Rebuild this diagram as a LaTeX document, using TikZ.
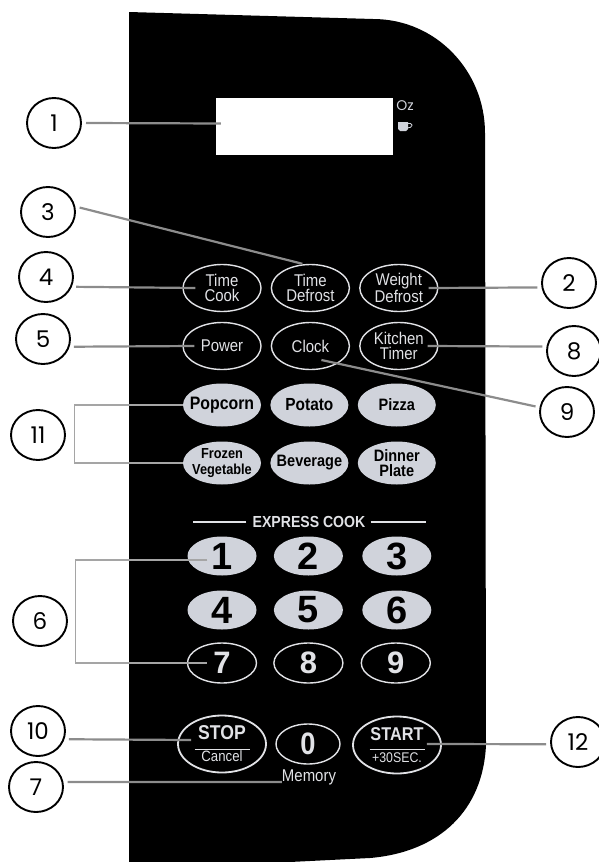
\documentclass[tikz,border=0pt]{standalone}
\usepackage{xcolor}
\usepackage{fontspec}
\setmainfont{Liberation Sans}
\newfontfamily\calloutfont{Poppins}
\newfontfamily\condfont[FakeStretch=0.88]{Liberation Sans}
\usetikzlibrary{shapes.geometric, positioning}
\definecolor{keygray}{RGB}{208, 211, 219}
\definecolor{ringgray}{RGB}{225, 226, 230}
\definecolor{leadgray}{RGB}{140, 140, 140}
\definecolor{bracketgray}{RGB}{165, 165, 165}

\begin{document}
\begin{tikzpicture}[
    x=1pt, y=-1pt,
    callout/.style={draw=black, line width=1.9pt, ellipse, minimum width=54pt, minimum height=50pt,
                    inner sep=-40pt, outer sep=5pt, font=\calloutfont\fontsize{23}{23}\selectfont},
    softkey/.style={draw=ringgray, line width=1.4pt, ellipse, minimum width=78pt, minimum height=47pt,
                    inner sep=-40pt, align=center, text=ringgray, font=\condfont\fontsize{17}{15.5}\selectfont},
    foodkey/.style={fill=keygray, ellipse, minimum width=78pt, minimum height=43pt, inner sep=-40pt,
                    align=center, text=black, font=\condfont\bfseries\fontsize{16.5}{15.5}\selectfont},
    numkey/.style={fill=keygray, ellipse, minimum width=69pt, minimum height=39pt, inner sep=-40pt,
                   text=black, font=\bfseries\fontsize{38}{38}\selectfont},
    numring/.style={draw=ringgray, line width=1.4pt, ellipse, minimum width=69pt, minimum height=40pt,
                    inner sep=-40pt, text=ringgray, font=\bfseries\fontsize{31}{31}\selectfont},
    bigkey/.style={draw=ringgray, line width=1.8pt, ellipse, minimum width=88pt, minimum height=57pt,
                   inner sep=-40pt, align=center, text=ringgray, font=\condfont\fontsize{15}{15}\selectfont},
    lead/.style={draw=leadgray, line width=2.2pt},
    bracket/.style={draw=bracketgray, line width=1.2pt}
]
    \useasboundingbox (0,0) rectangle (598,862);

    % Panel and display
    \fill[black] (129,12) -- (373,19) .. controls (436,19) and (485,71) .. (485,133)
        -- (486,745) .. controls (483,810) and (440,852) .. (370,858) -- (290,862) -- (129,862) -- cycle;
    \node[fill=white, minimum width=177pt, minimum height=57pt] (display) at (304.5,126.5) {};
    \node[text=keygray, font=\calloutfont\fontsize{14}{14}\selectfont, inner sep=0pt] (ounces) at (405,106) {Oz};
    \fill[keygray] (398,122) -- (408,122) -- (408,129) -- (406,131) -- (400,131) -- (398,129) -- cycle;
    \draw[keygray, line width=0.8pt, rounded corners=1.5pt] (408,123.5) -- (412,123.5) -- (412,127) -- (407,128);

    % Row 1 - Soft keys
    \node[softkey] (timecook) at (222,288) {Time\\Cook};
    \node[softkey, right=9pt of timecook] (timedefrost) {Time\\Defrost};
    \node[softkey, right=9pt of timedefrost] (weightdefrost) {Weight\\Defrost};

    % Row 2 - Soft keys
    \node[softkey] (power) at (222,346) {Power};
    \node[softkey, right=9pt of power] (clock) {Clock};
    \node[softkey, right=9pt of clock] (kitchentimer) {Kitchen\\Timer};

    % Row 3 and 4 - Food keys
    \node[foodkey] (popcorn) at (222,405) {\fontsize{18}{18}\selectfont Popcorn};
    \node[foodkey, right=9pt of popcorn] (potato) {\fontsize{17.5}{18}\selectfont Potato};
    \node[foodkey, right=9pt of potato] (pizza) {Pizza};
    \node[foodkey, font=\condfont\bfseries\fontsize{14.5}{15.5}\selectfont] (frozen) at (222,463) {Frozen\\Vegetable};
    \node[foodkey, right=9pt of frozen] (beverage) {Beverage};
    \node[foodkey, right=9pt of beverage] (dinner) {Dinner\\Plate};

    % Number pad
    \node[text=ringgray, font=\condfont\bfseries\fontsize{16}{16}\selectfont, inner sep=0pt] (express) at (309,522) {EXPRESS COOK};
    \draw[ringgray, line width=1.4pt] ([xshift=-6pt]express.west) -- ++(-53,0);
    \draw[ringgray, line width=1.4pt] ([xshift=5pt]express.east) -- ++(55,0);
    \node[numkey] (keyone) at (222,556) {1};
    \node[numkey, right=17pt of keyone] (keytwo) {2};
    \node[numkey, right=19pt of keytwo] (keythree) {3};
    \node[numkey] (keyfour) at (222,610) {4};
    \node[numkey, right=17pt of keyfour] (keyfive) {5};
    \node[numkey, right=19pt of keyfive] (keysix) {6};
    \node[numring] (keyseven) at (222,663) {7};
    \node[numring, right=16pt of keyseven] (keyeight) {8};
    \node[numring, right=17pt of keyeight] (keynine) {9};

    % Bottom row
    \node[bigkey] (stop) at (222,744) {{\bfseries\fontsize{20}{20}\selectfont STOP}\\[-5pt]\rule{55pt}{1pt}\\[-3pt]Cancel};
    \node[numring, minimum width=64pt] (keyzero) at (308,744) {\condfont 0};
    \node[bigkey] (start) at (397,745) {{\bfseries\fontsize{18.5}{20}\selectfont START}\\[-5pt]\rule{55pt}{1pt}\\[-3pt]\fontsize{14}{15}\selectfont +30SEC.};
    \node[text=ringgray, font=\condfont\fontsize{17}{17}\selectfont, inner sep=0pt] (memory) at (309,777) {Memory};

    % Numbered callouts
    \node[callout] (numone) at (54,123) {1};
    \node[callout] (numtwo) at (569,283) {2};
    \node[callout] (numthree) at (48,212) {3};
    \node[callout] (numfour) at (46,277) {4};
    \node[callout] (numfive) at (43,339) {5};
    \node[callout] (numsix) at (40,621) {6};
    \node[callout] (numseven) at (36,787) {7};
    \node[callout] (numeight) at (574,351) {8};
    \node[callout] (numnine) at (567,412) {9};
    \node[callout] (numten) at (38,731) {10};
    \node[callout] (numeleven) at (38,435) {11};
    \node[callout] (numtwelve) at (578,742) {12};

    % Leader lines
    \draw[lead] (numone.0) -- ([shift={(5pt,3pt)}]display.west);
    \draw[lead] (numtwo.188) -- ([xshift=-10pt]weightdefrost.east);
    \draw[lead] (numthree.8) -- ([xshift=-8pt]timedefrost.north);
    \draw[lead] (numfour.-18) -- ([xshift=13pt]timecook.west);
    \draw[lead] (numfive.-14) -- ([xshift=12pt]power.west);
    \draw[lead] (numseven.9) -- ([yshift=-5pt]memory.west);
    \draw[lead] (numeight.172) -- ([xshift=-11pt]kitchentimer.east);
    \draw[lead] (numnine.170) -- ([shift={(11pt,-14pt)}]clock.center);
    \draw[lead] (numten.-15) -- ([shift={(14pt,4pt)}]stop.west);
    \draw[lead] (numtwelve.184) -- ([shift={(-15pt,1pt)}]start.east);

    % Brackets
    \draw[bracket] (popcorn.west) -- ++(-108,0) |- (frozen.west);
    \draw[bracket] ([shift={(20pt,-4pt)}]keyone.west) -- ++(-132,0) |- ([xshift=20pt]keyseven.west);
\end{tikzpicture}
\end{document}
